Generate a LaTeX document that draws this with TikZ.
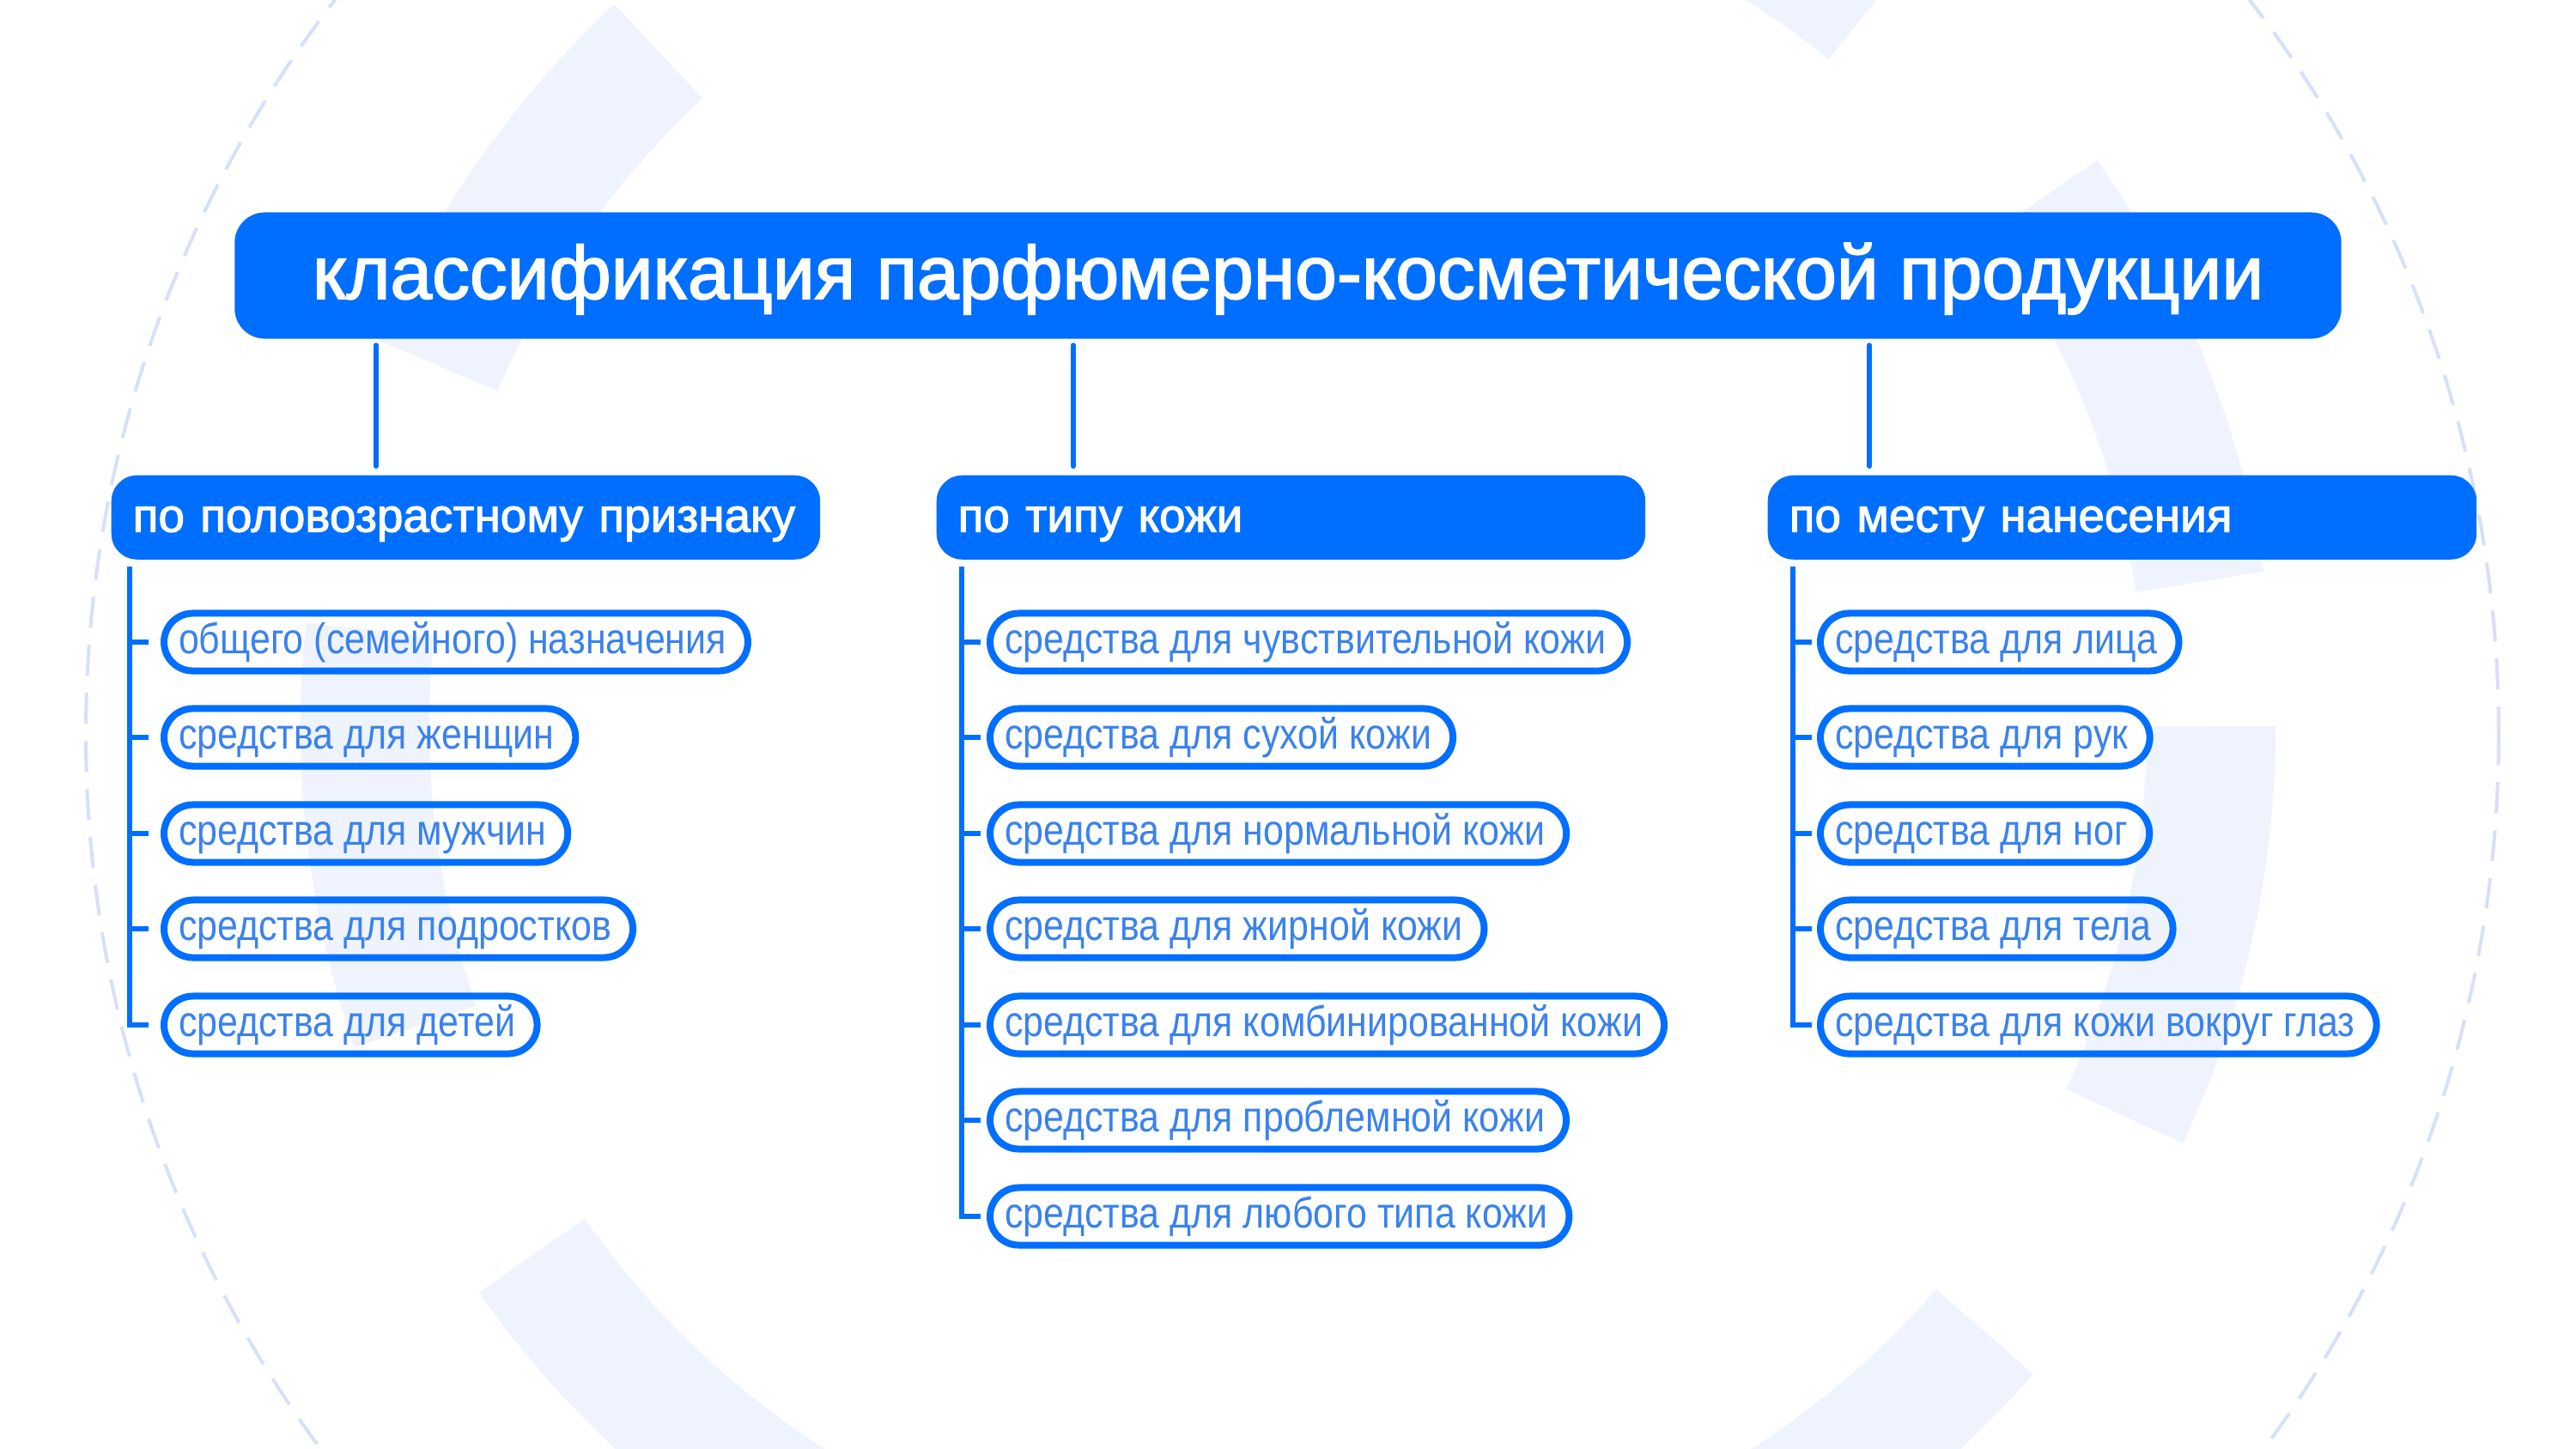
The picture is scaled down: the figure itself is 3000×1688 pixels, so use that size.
\documentclass[tikz,border=0pt]{standalone}
\usepackage{fontspec}
\setmainfont{Liberation Sans}
\newfontfamily\medsans{Liberation Sans}[FakeBold=2]
\newfontfamily\thinsans{Liberation Sans}[FakeStretch=0.86]
\usetikzlibrary{positioning,calc}

\definecolor{brand}{RGB}{0,110,255}
\definecolor{leafink}{RGB}{58,130,238}
\definecolor{bandtint}{RGB}{238,243,253}
\definecolor{dashtint}{RGB}{214,224,248}

\tikzset{
  head/.style={fill=brand, text=white, rounded corners=0.35cm,
    minimum width=24.52cm, minimum height=1.47cm, inner sep=0pt,
    text height=0.6cm, text depth=0.06cm,
    font=\medsans\fontsize{24.9}{30}\selectfont},
  group/.style={fill=brand, text=white, rounded corners=0.3cm, anchor=north west,
    minimum height=0.98cm, inner xsep=0.25cm, text width=7.75cm, align=left,
    text height=0.37cm, text depth=0.035cm,
    font=\medsans\fontsize{15.6}{18}\selectfont},
  item/.style={draw=brand, line width=0.08cm, rounded corners=0.335cm, anchor=west,
    minimum height=0.67cm, inner xsep=0.17cm, inner ysep=0pt, text=leafink,
    text height=0.3cm, text depth=0.04cm,
    execute at end node=\hspace{0.08cm},
    font=\thinsans\fontsize{14.2}{17}\selectfont},
  stem/.style={draw=brand, line width=0.06cm, line cap=round,
    shorten <=0.07cm, shorten >=0.1cm},
  branch/.style={draw=brand, line width=0.06cm},
  band/.style={draw=bandtint, line width=1.5cm},
  ring/.style={draw=dashtint, line width=0.04cm, dash pattern=on 0.36cm off 0.2cm}
}

\begin{document}
\begin{tikzpicture}[x=0.01cm, y=-0.01cm]
\useasboundingbox (0,0) rectangle (3000,1688);
\clip (0,0) rectangle (3000,1688);

% background
\begin{scope}[shift={(1500,846)}, x=0.01cm, y=0.01cm]
\draw[band] (133:1075) arc[start angle=133, end angle=157, radius=1075];
\draw[band] (174:1075) arc[start angle=174, end angle=199, radius=1075];
\draw[band] (215:1075) arc[start angle=215, end angle=240, radius=1075];
\draw[band] (295:1075) arc[start angle=295, end angle=319, radius=1075];
\draw[band] (335:1075) arc[start angle=335, end angle=360, radius=1075];
\draw[band] (9:1075) arc[start angle=9, end angle=35, radius=1075];
\draw[band] (51:1075) arc[start angle=51, end angle=76, radius=1075];
\end{scope}
\draw[ring] (1505,855) circle[radius=1405];

% title and groups
\node[head] (title) at (1500,321) {классификация парфюмерно-косметической продукции};
\node[group] (g1) at (129,553) {по половозрастному признаку};
\node[group] (g2) at (1090,553) {по типу кожи};
\node[group] (g3) at (2058,553) {по месту нанесения};

\coordinate (s1) at (438,0);
\coordinate (s2) at (1250,0);
\coordinate (s3) at (2177,0);
\draw[stem] (title.south -| s1) -- (g1.north -| s1);
\draw[stem] (title.south -| s2) -- (g2.north -| s2);
\draw[stem] (title.south -| s3) -- (g3.north -| s3);

% first group
\node[item] (a1) at (187,748) {общего (семейного) назначения};
\node[item] (a2) at (187,859) {средства для женщин};
\node[item] (a3) at (187,971) {средства для мужчин};
\node[item] (a4) at (187,1082) {средства для подростков};
\node[item] (a5) at (187,1194) {средства для детей};

\coordinate (v1) at (151,660);
\draw[branch] (v1) |- ($(a5.west)+(-14,0)$);
\draw[branch] (v1 |- a1.west) -- ($(a1.west)+(-14,0)$);
\draw[branch] (v1 |- a2.west) -- ($(a2.west)+(-14,0)$);
\draw[branch] (v1 |- a3.west) -- ($(a3.west)+(-14,0)$);
\draw[branch] (v1 |- a4.west) -- ($(a4.west)+(-14,0)$);

% second group
\node[item] (b1) at (1149,748) {средства для чувствительной кожи};
\node[item] (b2) at (1149,859) {средства для сухой кожи};
\node[item] (b3) at (1149,971) {средства для нормальной кожи};
\node[item] (b4) at (1149,1082) {средства для жирной кожи};
\node[item] (b5) at (1149,1194) {средства для комбинированной кожи};
\node[item] (b6) at (1149,1305) {средства для проблемной кожи};
\node[item] (b7) at (1149,1417) {средства для любого типа кожи};

\coordinate (v2) at (1120,660);
\draw[branch] (v2) |- ($(b7.west)+(-7,0)$);
\draw[branch] (v2 |- b1.west) -- ($(b1.west)+(-7,0)$);
\draw[branch] (v2 |- b2.west) -- ($(b2.west)+(-7,0)$);
\draw[branch] (v2 |- b3.west) -- ($(b3.west)+(-7,0)$);
\draw[branch] (v2 |- b4.west) -- ($(b4.west)+(-7,0)$);
\draw[branch] (v2 |- b5.west) -- ($(b5.west)+(-7,0)$);
\draw[branch] (v2 |- b6.west) -- ($(b6.west)+(-7,0)$);

% third group
\node[item] (c1) at (2116,748) {средства для лица};
\node[item] (c2) at (2116,859) {средства для рук};
\node[item] (c3) at (2116,971) {средства для ног};
\node[item] (c4) at (2116,1082) {средства для тела};
\node[item] (c5) at (2116,1194) {средства для кожи вокруг глаз};

\coordinate (v3) at (2088,660);
\draw[branch] (v3) |- ($(c5.west)+(-6,0)$);
\draw[branch] (v3 |- c1.west) -- ($(c1.west)+(-6,0)$);
\draw[branch] (v3 |- c2.west) -- ($(c2.west)+(-6,0)$);
\draw[branch] (v3 |- c3.west) -- ($(c3.west)+(-6,0)$);
\draw[branch] (v3 |- c4.west) -- ($(c4.west)+(-6,0)$);
\end{tikzpicture}
\end{document}
